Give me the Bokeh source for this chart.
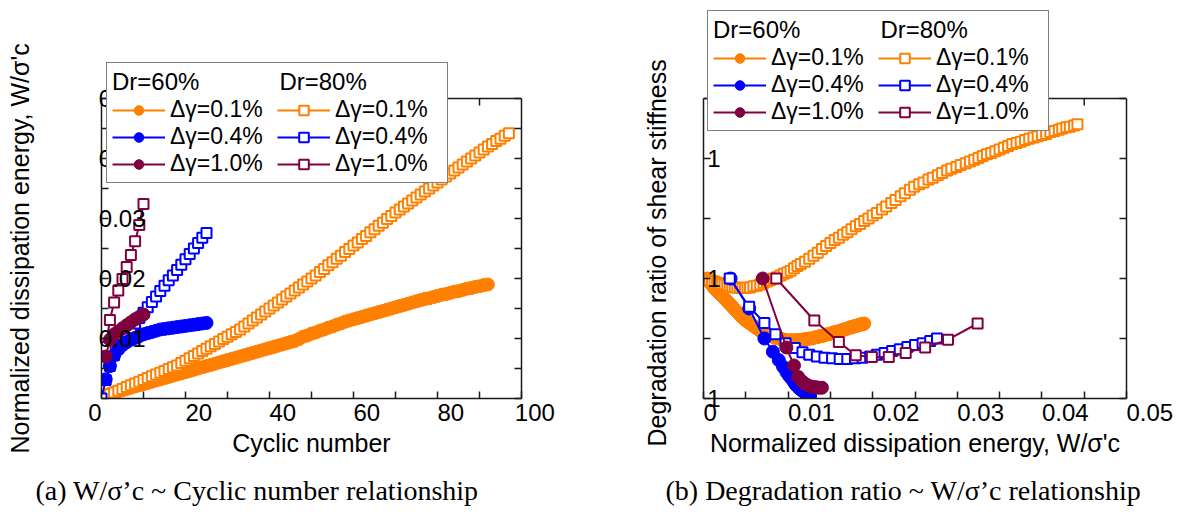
import math
from bokeh.plotting import figure
from bokeh.layouts import row
from bokeh.models import FixedTicker, LinearAxis, Legend, LegendItem, Range1d, Title
from bokeh.embed import file_html
from bokeh.resources import INLINE

SANS = "Liberation Sans"
SERIF = "Liberation Serif"
ORANGE = "#FF8000"
BLUE = "#0000FF"
MAROON = "#800040"
AX_COL = "#1a1a1a"
NB = "\u00a0"

# ---------------- data ----------------
# Dr=60%, dgamma=0.1%
cyc_60_01 = list(range(1, 93))
W_60_01 = [0.0005, 0.0008, 0.0010, 0.0012, 0.0014, 0.0016, 0.0018, 0.0020, 0.0022, 0.0024,
           0.0026, 0.0028, 0.0030, 0.0032, 0.0034, 0.0036, 0.0038, 0.0040, 0.0042, 0.0044,
           0.0046, 0.0048, 0.0050, 0.0052, 0.0054, 0.0056, 0.0058, 0.0060, 0.0062, 0.0064,
           0.0066, 0.0068, 0.0070, 0.0072, 0.0074, 0.0076, 0.0078, 0.0080, 0.0082, 0.0084,
           0.0086, 0.0088, 0.0090, 0.0092, 0.0094, 0.0096, 0.0099,
           0.0103, 0.0105, 0.0108, 0.0110, 0.0113, 0.0115, 0.0118, 0.0120, 0.0123, 0.0125,
           0.0128, 0.0130, 0.0132, 0.0134, 0.0136, 0.0138, 0.0140, 0.0142, 0.0144, 0.0146,
           0.0148, 0.0150, 0.0152, 0.0154, 0.0156, 0.0158, 0.0160, 0.0162, 0.0164, 0.0166,
           0.0167, 0.0169, 0.0171, 0.0173, 0.0174, 0.0176, 0.0178, 0.0179, 0.0181, 0.0183,
           0.0184, 0.0186, 0.0187, 0.0189, 0.0190]
R_60_01 = [1.000, 0.993, 0.989, 0.985, 0.982, 0.979, 0.976, 0.974, 0.971, 0.968,
           0.965, 0.962, 0.959, 0.956, 0.953, 0.950, 0.947, 0.944, 0.941, 0.938,
           0.935, 0.933, 0.930, 0.928, 0.926, 0.924, 0.922, 0.920, 0.918, 0.916,
           0.914, 0.912, 0.911, 0.909, 0.908, 0.907, 0.905, 0.904, 0.903, 0.902,
           0.901, 0.900, 0.900, 0.899, 0.898, 0.898, 0.897,
           0.897, 0.897, 0.897, 0.897, 0.897, 0.898, 0.898, 0.899, 0.899, 0.900,
           0.900, 0.901, 0.902, 0.902, 0.903, 0.904, 0.904, 0.905, 0.906, 0.907,
           0.907, 0.908, 0.909, 0.910, 0.911, 0.911, 0.912, 0.913, 0.914, 0.915,
           0.915, 0.916, 0.917, 0.918, 0.919, 0.919, 0.920, 0.921, 0.921, 0.922,
           0.923, 0.923, 0.924, 0.924, 0.925]

# Dr=60%, dgamma=0.4%
cyc_60_04 = list(range(1, 26))
W_60_04 = [0.0032, 0.0054, 0.0072, 0.0082, 0.0089, 0.0094, 0.0098, 0.0101, 0.0104, 0.0107,
           0.0109, 0.0111, 0.0113, 0.0115, 0.0116, 0.0117, 0.0118, 0.0119, 0.0120, 0.0121,
           0.0122, 0.0123, 0.0124, 0.0125, 0.0126]
R_60_04 = [1.000, 0.950, 0.900, 0.878, 0.864, 0.853, 0.844, 0.838, 0.833, 0.827,
           0.823, 0.820, 0.817, 0.815, 0.814, 0.813, 0.812, 0.811, 0.810, 0.809,
           0.808, 0.807, 0.806, 0.805, 0.804]

# Dr=60%, dgamma=1.0%
cyc_60_10 = list(range(1, 11))
W_60_10 = [0.0070, 0.0098, 0.0107, 0.0112, 0.0117, 0.0122, 0.0127, 0.0132, 0.0136, 0.0140]
R_60_10 = [1.000, 0.885, 0.855, 0.836, 0.828, 0.823, 0.820, 0.819, 0.818, 0.818]

# Dr=80%, dgamma=0.1%
cyc_80_01 = list(range(1, 98))
W_80_01 = [0.0004, 0.0007, 0.0010, 0.0013, 0.0016, 0.0019, 0.0022, 0.0025, 0.0028, 0.0031,
           0.0034, 0.0037, 0.0040, 0.0043, 0.0046, 0.0049, 0.0052, 0.0055, 0.0059, 0.0063,
           0.0067, 0.0071, 0.0075, 0.0079, 0.0083, 0.0087, 0.0091, 0.0095, 0.0099, 0.0103,
           0.0107, 0.0111, 0.0115, 0.0120, 0.0125, 0.0130, 0.0135, 0.0140, 0.0145, 0.0150,
           0.0155, 0.0160, 0.0165, 0.0170, 0.0175, 0.0180, 0.0185, 0.0190, 0.0195, 0.0200,
           0.0205, 0.0211, 0.0216, 0.0222, 0.0227, 0.0233, 0.0238, 0.0244, 0.0249, 0.0255,
           0.0260, 0.0266, 0.0271, 0.0277, 0.0282, 0.0288, 0.0293, 0.0299, 0.0304, 0.0310,
           0.0315, 0.0320, 0.0325, 0.0330, 0.0335, 0.0340, 0.0345, 0.0350, 0.0355, 0.0360,
           0.0365, 0.0370, 0.0375, 0.0380, 0.0385, 0.0390, 0.0395, 0.0400, 0.0405, 0.0410,
           0.0415, 0.0420, 0.0424, 0.0429, 0.0433, 0.0438, 0.0442]
R_80_01 = [1.000, 0.997, 0.996, 0.995, 0.993, 0.992, 0.991, 0.990, 0.989, 0.987,
           0.986, 0.985, 0.985, 0.984, 0.984, 0.984, 0.985, 0.985, 0.987, 0.988,
           0.990, 0.993, 0.995, 0.997, 1.000, 1.002, 1.005, 1.008, 1.010, 1.013,
           1.017, 1.021, 1.024, 1.028, 1.033, 1.038, 1.043, 1.049, 1.054, 1.059,
           1.064, 1.068, 1.073, 1.077, 1.082, 1.087, 1.091, 1.096, 1.100, 1.105,
           1.109, 1.115, 1.120, 1.126, 1.131, 1.137, 1.142, 1.148, 1.153, 1.157,
           1.160, 1.165, 1.168, 1.172, 1.176, 1.180, 1.183, 1.186, 1.189, 1.192,
           1.195, 1.198, 1.201, 1.204, 1.207, 1.209, 1.212, 1.215, 1.218, 1.221,
           1.224, 1.226, 1.228, 1.231, 1.233, 1.235, 1.237, 1.239, 1.241, 1.244,
           1.246, 1.248, 1.250, 1.252, 1.253, 1.255, 1.257]

# Dr=80%, dgamma=0.4%  (cycle 0 = origin, no stiffness ratio plotted for it)
cyc_80_04 = list(range(0, 26))
W_80_04 = [0.0, 0.0031, 0.0054, 0.0072, 0.0085, 0.0097, 0.0108, 0.0117, 0.0125, 0.0134,
           0.0143, 0.0152, 0.0161, 0.0170, 0.0179, 0.0188, 0.0197, 0.0205, 0.0214, 0.0223,
           0.0232, 0.0241, 0.0250, 0.0259, 0.0268, 0.0276]
R_80_04 = [1.000, 1.000, 0.953, 0.926, 0.907, 0.892, 0.884, 0.877, 0.873, 0.870,
           0.868, 0.867, 0.866, 0.866, 0.867, 0.868, 0.870, 0.873, 0.876, 0.879,
           0.882, 0.886, 0.889, 0.892, 0.896, 0.900]

# Dr=80%, dgamma=1.0%
cyc_80_10 = list(range(1, 11))
W_80_10 = [0.0086, 0.0131, 0.0160, 0.0180, 0.0199, 0.0219, 0.0239, 0.0262, 0.0289, 0.0324]
R_80_10 = [1.000, 0.930, 0.894, 0.872, 0.869, 0.869, 0.876, 0.885, 0.898, 0.925]

legend_labels = ["Δγ=0.1%", "Δγ=0.4%", "Δγ=1.0%"]
group_titles = ["Dr=60%", "Dr=80%"]

# axis ticks and tick labels
a_xticks = [0, 20, 40, 60, 80, 100]
a_xminor = [10, 30, 50, 70, 90]
a_xlabels = ["0", "20", "40", "60", "80", "100"]
a_yticks = [0, 0.01, 0.02, 0.03, 0.04, 0.05]
a_yminor = [0.005, 0.015, 0.025, 0.035, 0.045]
a_ylabels = ["", "0.01", "0.02", "0.03", "0.04", "0.05"]
b_xticks = [0, 0.01, 0.02, 0.03, 0.04, 0.05]
b_xminor = [0.005, 0.015, 0.025, 0.035, 0.045]
b_xlabels = ["0", "0.01", "0.02", "0.03", "0.04", "0.05"]
b_yticks = [0.8, 0.9, 1.0, 1.1, 1.2, 1.3]
b_ylabels = ["1", "", "1", "", "1", ""]

CAP_A = "(a) W/σ’c ~ Cyclic number relationship"
CAP_B = "(b) Degradation ratio ~ W/σ’c relationship"
YLAB_A = "Normalized dissipation energy, W/σ'c"
YLAB_B = "Degradation ratio of shear stiffness"
XLAB_A = "Cyclic number"
XLAB_B = "Normalized dissipation energy, W/σ'c"

# layout geometry (px): both frames run from y=2 to y=398; the axes box is 300 px tall
FRAME_TOP, FRAME_BOTTOM, BOX_PX = 2, 398, 300
FRAME_PX = FRAME_BOTTOM - FRAME_TOP

# label placement quirks of the original (labels sit right of their ticks)
a_xshift = [-2, 4, 4, 4, 4, 4]      # in non-breaking spaces (neg = trailing)
b_xshift = [2, 7, 7, 7, 7, 7]


def shifted(labels, shifts):
    out = []
    for lab, s in zip(labels, shifts):
        out.append(NB * s + lab if s >= 0 else lab + NB * (-s))
    return out


def style_axis(ax, size="24px"):
    ax.axis_line_color = AX_COL
    ax.axis_line_width = 1.5
    ax.major_tick_line_color = AX_COL
    ax.minor_tick_line_color = AX_COL
    ax.major_tick_line_width = 1.5
    ax.minor_tick_line_width = 1.5
    ax.major_tick_in = 7
    ax.major_tick_out = 0
    ax.minor_tick_in = 7
    ax.minor_tick_out = 0
    ax.major_label_text_font = SANS
    ax.major_label_text_font_size = size
    ax.major_label_text_color = "black"
    ax.axis_label_text_font = SANS
    ax.axis_label_text_font_size = "25px"
    ax.axis_label_text_font_style = "normal"
    ax.axis_label_text_color = "black"


def box_top(p, xt, xm, ytop):
    # top edge of the axes box with inward ticks (the frame itself extends higher
    # so that the legend may overlap the box edge as in the original)
    p.line([xt[0], xt[-1]], [ytop, ytop], line_color=AX_COL, line_width=1.5)
    p.ray(x=xt[1:-1] + xm, y=[ytop] * (len(xt) - 2 + len(xm)), length=7,
          length_units="screen", angle=-math.pi / 2, line_color=AX_COL, line_width=1.5)


def right_axis(p, yt, ym, bounds):
    ax = LinearAxis(ticker=FixedTicker(ticks=yt, minor_ticks=ym), bounds=bounds)
    style_axis(ax)
    ax.major_label_overrides = {t: "" for t in yt}
    ax.major_label_text_color = None
    ax.major_label_standoff = 0
    p.add_layout(ax, "right")


def y_title(p, text, offset, spacer):
    # y title as a side Title so it can be centred on the axes box
    p.yaxis[0].axis_label = NB
    p.yaxis[0].axis_label_standoff = spacer
    p.add_layout(Title(text=text, align="left", offset=offset, standoff=0,
                       vertical_align="bottom", text_font=SANS, text_font_size="25px",
                       text_font_style="normal", text_color="black"), "left")


def series(p, x, y, color, filled):
    ln = p.line(x, y, line_color=color, line_width=2)
    if filled:
        sc = p.scatter(x, y, marker="circle", size=13, fill_color=color, line_color=color)
    else:
        sc = p.scatter(x, y, marker="square", size=10, fill_color="white",
                       line_color=color, line_width=2)
    return [ln, sc]


def make_legend(p, rends, loc):
    items = [LegendItem(label=legend_labels[i], renderers=rends[i]) for i in range(3)]
    items += [LegendItem(label=legend_labels[i], renderers=rends[3 + i]) for i in range(3)]
    title = group_titles[0] + NB * 12 + group_titles[1]
    leg = Legend(items=items, location=loc, orientation="vertical", ncols=2,
                 title=title, title_text_font=SANS, title_text_font_size="24px",
                 title_text_font_style="normal", title_text_color="black", title_standoff=0,
                 label_text_font=SANS, label_text_font_size="23px", label_text_color="black",
                 glyph_width=53, glyph_height=24, label_standoff=5, label_width=107, spacing=0,
                 padding=5, margin=0, border_line_color="black", border_line_width=1.5,
                 background_fill_color="white", background_fill_alpha=1.0)
    p.add_layout(leg, "center")


def base_fig(width, xr, yr, cap, bl, br, xlabel, cap_offset):
    p = figure(width=width, height=522, x_range=xr, y_range=yr,
               output_backend="svg", toolbar_location=None,
               title=cap, title_location="below",
               min_border_left=bl, min_border_right=br,
               min_border_top=FRAME_TOP, min_border_bottom=522 - FRAME_BOTTOM,
               x_axis_label=xlabel)
    p.grid.visible = False
    p.outline_line_color = None
    p.background_fill_color = "white"
    p.border_fill_color = "white"
    p.title.text_font = SERIF
    p.title.text_font_size = "28px"
    p.title.text_font_style = "normal"
    p.title.text_color = "black"
    p.title.align = "left"
    p.title.offset = cap_offset
    p.title.standoff = 27
    style_axis(p.xaxis[0])
    style_axis(p.yaxis[0])
    p.xaxis[0].major_label_standoff = 0
    p.xaxis[0].axis_label_standoff = 0
    return p


# ---------------- (a) ----------------
a_ytop = a_yticks[-1] * FRAME_PX / BOX_PX
pa = base_fig(590, Range1d(0, 100), Range1d(0, a_ytop), CAP_A, 101, 69, XLAB_A, -66)
pa.xaxis[0].ticker = FixedTicker(ticks=a_xticks, minor_ticks=a_xminor)
pa.xaxis[0].major_label_overrides = dict(zip(a_xticks, shifted(a_xlabels, a_xshift)))
pa.yaxis[0].ticker = FixedTicker(ticks=a_yticks, minor_ticks=a_yminor)
pa.yaxis[0].bounds = (a_yticks[0], a_yticks[-1])
pa.yaxis[0].major_label_overrides = dict(zip(a_yticks, a_ylabels))
pa.yaxis[0].major_label_standoff = -44
y_title(pa, YLAB_A, -55, 31)
right_axis(pa, a_yticks, a_yminor, (a_yticks[0], a_yticks[-1]))
box_top(pa, a_xticks, a_xminor, a_yticks[-1])

ra_1 = series(pa, cyc_60_01, W_60_01, ORANGE, True)
ra_4 = series(pa, cyc_80_01, W_80_01, ORANGE, False)
ra_5 = series(pa, cyc_80_04, W_80_04, BLUE, False)
ra_6 = series(pa, cyc_80_10, W_80_10, MAROON, False)
ra_2 = series(pa, cyc_60_04, W_60_04, BLUE, True)
ra_3 = series(pa, cyc_60_10, W_60_10, MAROON, True)
make_legend(pa, [ra_1, ra_2, ra_3, ra_4, ra_5, ra_6], (5, 215))

# ---------------- (b) ----------------
b_ytop = b_yticks[0] + (b_yticks[-1] - b_yticks[0]) * FRAME_PX / BOX_PX
pb = base_fig(591, Range1d(0, 0.05), Range1d(b_yticks[0], b_ytop), CAP_B, 113, 55, XLAB_B, -38)
pb.xaxis[0].ticker = FixedTicker(ticks=b_xticks, minor_ticks=b_xminor)
pb.xaxis[0].major_label_overrides = dict(zip(b_xticks, shifted(b_xlabels, b_xshift)))
pb.yaxis[0].ticker = FixedTicker(ticks=b_yticks)
pb.yaxis[0].bounds = (b_yticks[0], b_yticks[-1])
pb.yaxis[0].major_label_overrides = dict(zip(b_yticks, b_ylabels))
pb.yaxis[0].major_label_standoff = -17
y_title(pb, YLAB_B, -48, 3)
right_axis(pb, b_yticks, [], (b_yticks[0], b_yticks[-1]))
box_top(pb, b_xticks, b_xminor, b_yticks[-1])

rb_1 = series(pb, W_60_01, R_60_01, ORANGE, True)
rb_4 = series(pb, W_80_01, R_80_01, ORANGE, False)
rb_2 = series(pb, W_60_04, R_60_04, BLUE, True)
rb_5 = series(pb, W_80_04[1:], R_80_04[1:], BLUE, False)
rb_3 = series(pb, W_60_10, R_60_10, MAROON, True)
rb_6 = series(pb, W_80_10, R_80_10, MAROON, False)
make_legend(pb, [rb_1, rb_2, rb_3, rb_4, rb_5, rb_6], (4, 267))

layout = row(pa, pb)
open("out.html", "w").write(file_html(layout, INLINE))
